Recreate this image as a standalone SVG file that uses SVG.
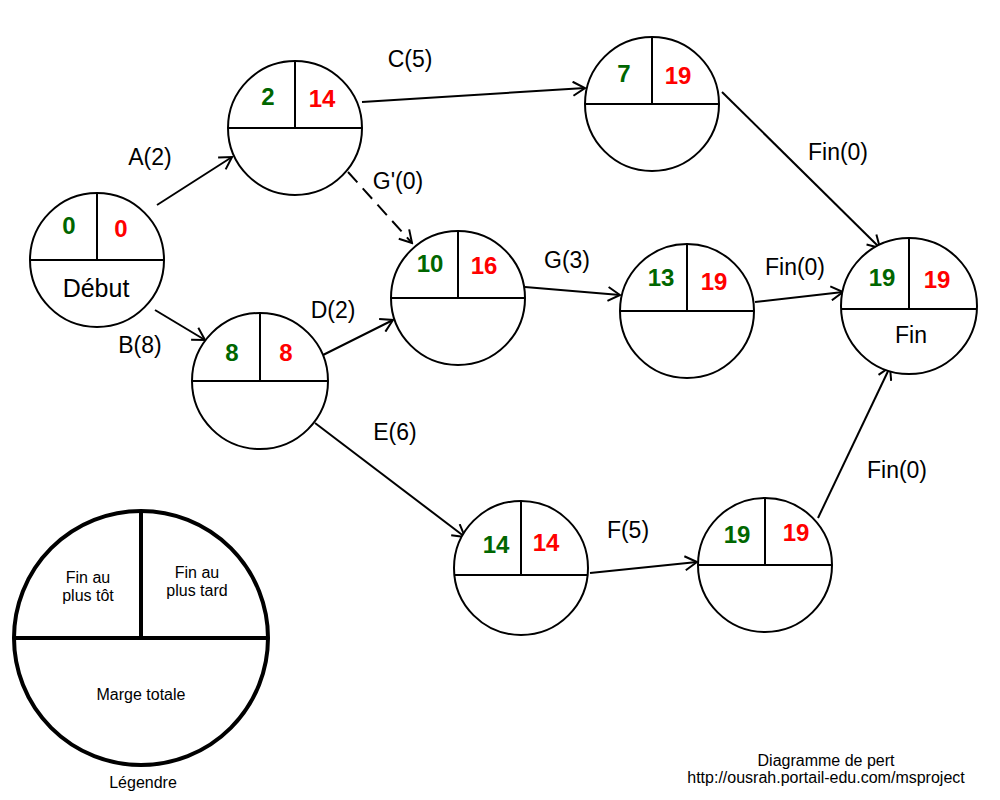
<svg xmlns="http://www.w3.org/2000/svg" width="1000" height="800" viewBox="0 0 1000 800">
<defs>
<marker id="ar" markerWidth="16" markerHeight="16" refX="14" refY="8" orient="auto" markerUnits="userSpaceOnUse">
<path d="M2,1 L14,8 L2,15" fill="none" stroke="#000" stroke-width="2"/>
</marker>
<style>
.c{fill:#fff;stroke:#000;stroke-width:2}
.l{stroke:#000;stroke-width:2;fill:none}
.e{stroke:#000;stroke-width:2;fill:none;marker-end:url(#ar)}
.g{fill:#006600;font:bold 24px "Liberation Sans",Arial,sans-serif;text-anchor:middle}
.r{fill:#ff0000;font:bold 24px "Liberation Sans",Arial,sans-serif;text-anchor:middle}
.t{fill:#000;font:23px "Liberation Sans",Arial,sans-serif;text-anchor:middle}
.s{fill:#000;font:16px "Liberation Sans",Arial,sans-serif;text-anchor:middle}
.x{fill:#000;font:16px "Liberation Sans",Arial,sans-serif;text-anchor:middle}
</style>
</defs>
<rect width="1000" height="800" fill="#fff"/>
<g id="connectors">
<line class="e" x1="157" y1="205" x2="232" y2="157"/>
<line class="e" x1="155" y1="310" x2="205" y2="340"/>
<line class="e" x1="362" y1="102" x2="585" y2="88"/>
<line class="e" x1="348" y1="172" x2="412" y2="243" stroke-dasharray="14,8"/>
<line class="e" x1="323" y1="355" x2="393" y2="320"/>
<line class="e" x1="315" y1="423" x2="465" y2="537"/>
<line class="e" x1="525" y1="287" x2="620" y2="295"/>
<line class="e" x1="722" y1="92" x2="880" y2="248"/>
<line class="e" x1="755" y1="302" x2="843" y2="292"/>
<line class="e" x1="590" y1="573" x2="697" y2="562"/>
<line class="e" x1="818" y1="518" x2="890" y2="367"/>
<text class="t" x="410" y="67">C(5)</text>
<text class="t" x="150" y="165">A(2)</text>
<text class="t" x="398" y="189">G'(0)</text>
<text class="t" x="567" y="268">G(3)</text>
<text class="t" x="333" y="318">D(2)</text>
<text class="t" x="140" y="353">B(8)</text>
<text class="t" x="395" y="440">E(6)</text>
<text class="t" x="628" y="538">F(5)</text>
<text class="t" x="838" y="160">Fin(0)</text>
<text class="t" x="795" y="275">Fin(0)</text>
<text class="t" x="897" y="478">Fin(0)</text>
</g>
<g id="debut"><circle class="c" cx="97" cy="260" r="67"/><path class="l" d="M30,260H164M97,193V260"/><text class="g" x="69" y="234">0</text><text class="r" x="121" y="237">0</text><text class="t" x="96" y="297" style="font-size:25px">Début</text></g>
<g id="nA"><circle class="c" cx="295" cy="128" r="67"/><path class="l" d="M228,128H362M295,61V128"/><text class="g" x="268" y="105">2</text><text class="r" x="322" y="107">14</text></g>
<g id="nC"><circle class="c" cx="652" cy="104" r="67"/><path class="l" d="M585,104H719M652,37V104"/><text class="g" x="624" y="82">7</text><text class="r" x="678" y="84">19</text></g>
<g id="nGp"><circle class="c" cx="458" cy="298" r="67"/><path class="l" d="M391,298H525M458,231V298"/><text class="g" x="430" y="272">10</text><text class="r" x="484" y="274">16</text></g>
<g id="nG"><circle class="c" cx="687" cy="311" r="67"/><path class="l" d="M620,311H754M687,244V311"/><text class="g" x="661" y="286">13</text><text class="r" x="714" y="290">19</text></g>
<g id="fin"><circle class="c" cx="909" cy="306" r="68"/><path class="l" d="M841,309H977M909,238V309"/><text class="g" x="882" y="286">19</text><text class="r" x="937" y="288">19</text><text class="t" x="911" y="343">Fin</text></g>
<g id="nB"><circle class="c" cx="260" cy="381" r="68"/><path class="l" d="M192,381H328M260,313V381"/><text class="g" x="232" y="361">8</text><text class="r" x="286" y="361">8</text></g>
<g id="nE"><circle class="c" cx="521" cy="568" r="67"/><path class="l" d="M455,575H587M521,501V575"/><text class="g" x="496" y="553">14</text><text class="r" x="546" y="551">14</text></g>
<g id="nF"><circle class="c" cx="765" cy="565" r="67"/><path class="l" d="M698,565H832M765,498V565"/><text class="g" x="737" y="543">19</text><text class="r" x="796" y="541">19</text></g>
<g id="legende"><circle cx="141" cy="638" r="127" fill="#fff" stroke="#000" stroke-width="4"/><path d="M14,638H268M141,511V638" stroke="#000" stroke-width="4"/>
<text class="s" x="88" y="583">Fin au</text><text class="s" x="88" y="601">plus tôt</text>
<text class="s" x="197" y="578">Fin au</text><text class="s" x="197" y="596">plus tard</text>
<text class="s" x="141" y="700">Marge totale</text>
<text class="x" x="143" y="788">Légendre</text></g>
<text class="x" x="826" y="766">Diagramme de pert</text>
<text class="x" x="826" y="783">http://ousrah.portail-edu.com/msproject</text>
</svg>
